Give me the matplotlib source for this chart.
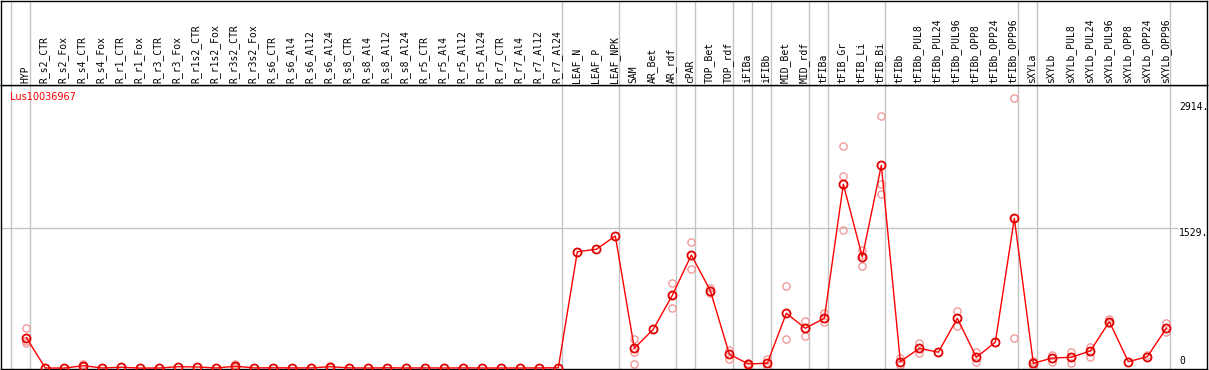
import numpy as np
import matplotlib
matplotlib.use("Agg")
import matplotlib.pyplot as plt

# ---- data ------------------------------------------------------------------
gene = "Lus10036967"

labels = ["HYP",
          "R_s2_CTR", "R_s2_Fox", "R_s4_CTR", "R_s4_Fox", "R_r1_CTR", "R_r1_Fox",
          "R_r3_CTR", "R_r3_Fox", "R_r1s2_CTR", "R_r1s2_Fox", "R_r3s2_CTR", "R_r3s2_Fox",
          "R_s6_CTR", "R_s6_Al4", "R_s6_Al12", "R_s6_Al24",
          "R_s8_CTR", "R_s8_Al4", "R_s8_Al12", "R_s8_Al24",
          "R_r5_CTR", "R_r5_Al4", "R_r5_Al12", "R_r5_Al24",
          "R_r7_CTR", "R_r7_Al4", "R_r7_Al12", "R_r7_Al24",
          "LEAF_N", "LEAF_P", "LEAF_NPK",
          "SAM", "AR_Bet", "AR_rdf", "cPAR", "TOP_Bet", "TOP_rdf",
          "iFIBa", "iFIBb", "MID_Bet", "MID_rdf", "tFIBa",
          "tFIB_Gr", "tFIB_Li", "tFIB_Bi",
          "tFIBb", "tFIBb_PUL8", "tFIBb_PUL24", "tFIBb_PUL96",
          "tFIBb_OPP8", "tFIBb_OPP24", "tFIBb_OPP96",
          "sXYLa", "sXYLb", "sXYLb_PUL8", "sXYLb_PUL24", "sXYLb_PUL96",
          "sXYLb_OPP8", "sXYLb_OPP24", "sXYLb_OPP96"]

means = [335,
         3, 2, 28, 3, 11, 2, 3, 17, 14, 3, 22, 4,
         5, 4, 4, 17, 4, 3, 5, 3, 4, 3, 4, 3, 3, 3, 4, 5,
         1273, 1300, 1445,
         218, 426, 797, 1237, 848, 153,
         47, 55, 601, 437, 546,
         2010, 1216, 2217,
         72, 218, 175, 546, 120, 284, 1638,
         55, 112, 120, 189, 509, 72, 127, 437]

# replicate values (index of sample -> values)
reps = {0: [437, 273, 300], 3: [45, 20, 20], 11: [44, 12, 10], 16: [25, 10, 15],
        32: [317, 181, 47], 34: [928, 662, 800], 35: [1383, 1081],
        36: [874, 819], 37: [200, 98], 38: [60, 35], 39: [98, 18],
        40: [899, 320], 41: [520, 356], 42: [607, 509],
        43: [2425, 2097, 1507], 44: [1292, 1114, 1240], 45: [2752, 2010, 1900],
        46: [109, 40], 47: [273, 171], 49: [626, 462], 50: [175, 72],
        52: [2949, 328, 1637], 53: [80, 30], 54: [145, 72], 55: [175, 61],
        56: [236, 127], 57: [535, 490], 59: [140], 60: [491, 393]}

# sample groups end after these indices (separator lines)
group_ends = [-1, 0, 28, 31, 34, 35, 37, 38, 39, 41, 42, 45, 52, 53, 60]
yticks = [0, 1529, 2914]
ytick_labels = ["0", "1529.", "2914."]

# ---- figure ----------------------------------------------------------------
W, H = 1209, 370
fig = plt.figure(figsize=(W / 100, H / 100), dpi=100)
mono = "DejaVu Sans Mono"

xl = (-1.332, 62.14)
top_px = 85.3
ax = fig.add_axes((1 / W, 1 / H, 1206 / W, (369 - top_px) / H))
axh = fig.add_axes((1 / W, (H - top_px) / H, 1206 / W, (top_px - 0.5) / H))

for a in (ax, axh):
    a.set_xlim(xl)
    a.set_xticks([])
    a.set_yticks([])
    for s in a.spines.values():
        s.set_linewidth(1.0)
        s.set_color("black")
axh.set_ylim(0, 1)
ax.set_ylim(-8, 3091)

x = np.arange(len(labels))

# separator lines
for g in group_ends:
    ax.axvline(g + 0.2, color="#c4c4c4", lw=1, zorder=0)
    axh.axvline(g + 0.2, color="#c4c4c4", lw=1, zorder=0)
ax.hlines(1529, xl[0], 60.6, color="#c4c4c4", lw=1, zorder=0)

# sample labels
for i, lab in enumerate(labels):
    axh.text(i - 0.05, 0.025, lab, rotation=90, ha="center", va="bottom",
             fontsize=7, family=mono, color="black")

# replicates
for i, vals in reps.items():
    ax.plot([i] * len(vals), vals, linestyle="none", marker="o", ms=5.2,
            mfc="none", mec="#f29a9a", mew=1.0, zorder=2)

# mean line
ax.plot(x, means, color="red", lw=1, zorder=3, clip_on=False)
ax.plot(x, means, linestyle="none", marker="o", ms=5.8, mfc="none",
        mec="#e00000", mew=1.3, zorder=4, clip_on=False)

# value labels at right
for v, t in zip(yticks, ytick_labels):
    if v == 0:
        ax.text(60.67, 25, t, ha="left", va="bottom", fontsize=7, family=mono)
    else:
        ax.text(60.67, v, t, ha="left", va="top", fontsize=7, family=mono)

ax.text(-0.86, 2963, gene, color="red", ha="left", va="center", fontsize=7,
        family="DejaVu Sans")

fig.savefig("out.png", dpi=100)
